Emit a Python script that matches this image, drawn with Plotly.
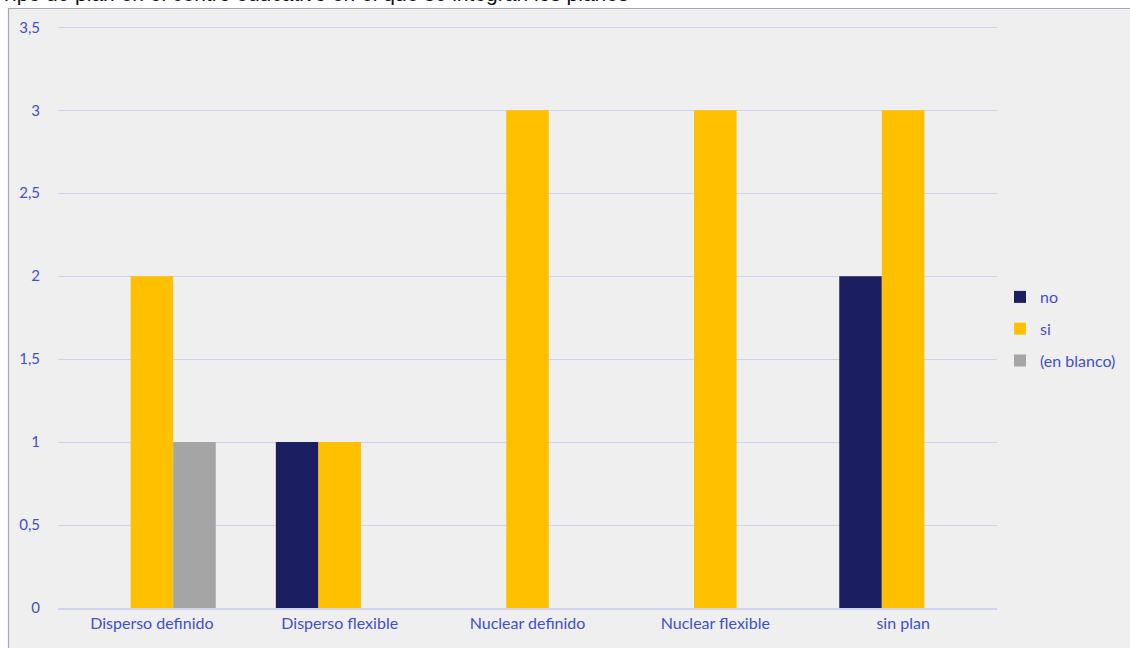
import plotly.graph_objects as go

# Data
categories = ["Disperso definido", "Disperso flexible", "Nuclear definido", "Nuclear flexible", "sin plan"]
series_names = ["no", "si", "(en blanco)"]
values_no = [None, 1, None, None, 2]
values_si = [2, 1, 3, 3, 3]
values_blank = [1, None, None, None, None]
y_ticks = [0, 0.5, 1, 1.5, 2, 2.5, 3, 3.5]
y_tick_text = ["0", "0,5", "1", "1,5", "2", "2,5", "3", "3,5"]
title_text = "Tipo de plan en el centro educativo en el que se integran los planes"

colors = ["#1b1f62", "#ffc000", "#a5a5a5"]
text_color = "#3f4fc8"
font_family = "Lato, 'Open Sans', sans-serif"

W, H = 1130, 648
L, R, T, B = 58, 133, 24, 40
plot_w = W - L - R
plot_h = H - T - B


def px_x(px):
    return (px - L) / plot_w


def px_y(py):
    return (H - B - py) / plot_h


fig = go.Figure()
for name, vals, col in zip(series_names, [values_no, values_si, values_blank], colors):
    fig.add_trace(go.Bar(
        name=name, x=categories, y=vals, marker=dict(color=col, line=dict(width=0)),
        legendgroup=name,
    ))

# Panel background with left/top border
fig.add_shape(type="rect", xref="paper", yref="paper",
              x0=px_x(8), x1=px_x(W + 5), y0=px_y(H + 5), y1=px_y(8),
              fillcolor="#efefef", line=dict(width=0), layer="below")
fig.add_shape(type="line", xref="paper", yref="paper",
              x0=px_x(8.5), x1=px_x(8.5), y0=px_y(H + 5), y1=px_y(8),
              line=dict(color="#a8a8b8", width=1.2), layer="below")
fig.add_shape(type="line", xref="paper", yref="paper",
              x0=px_x(8), x1=px_x(W + 5), y0=px_y(8.5), y1=px_y(8.5),
              line=dict(color="#a8a8b8", width=1.2), layer="below")

fig.add_annotation(text=title_text, xref="paper", yref="paper",
                   x=px_x(-2), y=px_y(7), xanchor="left", yanchor="bottom",
                   showarrow=False, font=dict(family="'Liberation Sans', Arial, sans-serif", size=21, color="#111111"))

fig.update_layout(
    width=W, height=H,
    margin=dict(l=L, r=R, t=T, b=B, autoexpand=False),
    paper_bgcolor="white",
    plot_bgcolor="rgba(0,0,0,0)",
    barmode="group",
    bargap=0.32,
    bargroupgap=0,
    font=dict(family=font_family, color=text_color, size=16),
    showlegend=True,
    legend=dict(x=px_x(1000), y=px_y(329), xanchor="left", yanchor="middle",
                bgcolor="rgba(0,0,0,0)", font=dict(size=16, color=text_color),
                tracegroupgap=8, itemwidth=30),
    xaxis=dict(showgrid=False, showline=True, linecolor="#d0d3f0", linewidth=2,
               tickfont=dict(size=16, color=text_color), ticks="", zeroline=False),
    yaxis=dict(range=[0, 3.52], tickvals=y_ticks, ticktext=y_tick_text,
               showgrid=True, gridcolor="#cdd1f2", gridwidth=1.3, zeroline=False,
               ticks="outside", ticklen=14, tickcolor="rgba(0,0,0,0)",
               tickfont=dict(size=15, color=text_color)),
)

fig.write_html("out.html")
